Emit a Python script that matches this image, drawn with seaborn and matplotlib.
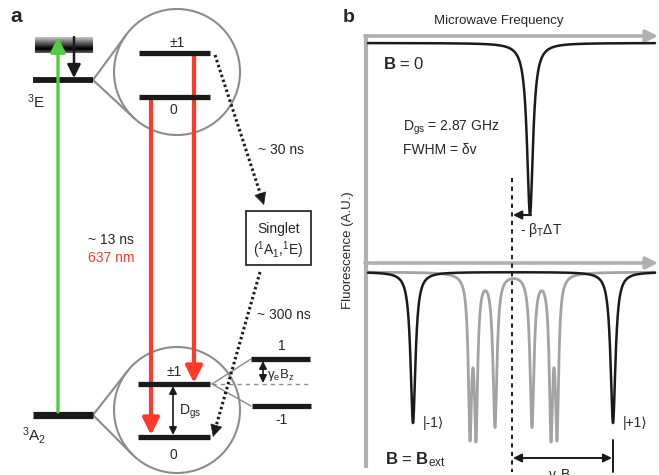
import numpy as np
import pandas as pd
import seaborn as sns
import matplotlib.pyplot as plt
from matplotlib.patches import Circle, Rectangle

sns.set_theme(style="white")
plt.rcParams['font.family'] = ['Liberation Sans', 'DejaVu Sans']
plt.rcParams['mathtext.fontset'] = 'custom'
plt.rcParams['mathtext.rm'] = 'Liberation Sans'
plt.rcParams['mathtext.it'] = 'Liberation Sans:italic'
plt.rcParams['mathtext.bf'] = 'Liberation Sans:bold'

# --- energy levels of panel a (x from, x to, y), in pixels of the 659x475 canvas
level_names = ['3E', '3A2', 'es_p1', 'es_0', 'gs_p1', 'gs_0', 'zm_p1', 'zm_m1']
level_x0 = [33, 33, 139, 139, 138, 138, 251, 252]
level_x1 = [93, 93, 210, 210, 210, 210, 310, 311]
level_y = [80, 415, 53, 97, 384, 437, 359, 406]
level_lw = [4.2, 5.2, 3.8, 3.8, 3.8, 3.8, 3.8, 3.8]

# zoom circles (centre x, centre y, radius) and the level each one magnifies
circle_cx = [177, 177]
circle_cy = [72, 410]
circle_r = [63, 63]
circle_src = [(93, 80), (93, 415)]

# --- ODMR spectra of panel b (pixel units along the frequency axis)
freq = np.linspace(368, 655, 3000)
b0_base, b0_centres, b0_depths, b0_widths = 43, [530], [172], [3.6]
bext_base, bext_centres, bext_depths, bext_widths = 272, [413, 613], [151, 151], [3.0, 3.0]
grey_base = 272
grey_centres = [470, 476, 495, 532, 551, 557]
grey_depths = [152, 152, 152, 152, 152, 152]
grey_widths = [2.0, 2.0, 2.4, 2.4, 2.0, 2.0]
zero_field_x = 512


def spectrum(base, centres, depths, widths):
    y = np.full_like(freq, float(base))
    for c, d, w in zip(centres, depths, widths):
        y += d * w**2 / (w**2 + (freq - c)**2)
    return y


GREEN = '#52cc45'
RED = '#ff3a2a'
GREY = '#8c8c8c'
AXGREY = '#b0b0b0'

fig = plt.figure(figsize=(6.59, 4.75), dpi=100)
ax = fig.add_axes([0, 0, 1, 1])
ax.set_xlim(0, 659)
ax.set_ylim(475, 0)
ax.axis('off')

# phonon sideband (gradient bar)
grad = np.concatenate([np.linspace(0.75, 0.0, 12), np.linspace(0.05, 0.35, 4)])[:, None]
ax.imshow(grad, cmap='gray', vmin=0, vmax=1, extent=(35, 93, 53, 37), aspect='auto', zorder=1)

# circles and cones
for cx, cy, r, (px, py) in zip(circle_cx, circle_cy, circle_r, circle_src):
    ax.add_patch(Circle((cx, cy), r, fill=False, ec=GREY, lw=1.5, zorder=2))
    d = np.hypot(px - cx, py - cy)
    th = np.arctan2(py - cy, px - cx)
    al = np.arccos(r / d)
    for s in (-1, 1):
        tx, ty = cx + r * np.cos(th + s * al), cy + r * np.sin(th + s * al)
        ax.plot([px, tx], [py, ty], color=GREY, lw=1.5, zorder=2)

# zeeman cone
ax.plot([212, 251], [384, 359], color=GREY, lw=1.0, zorder=2)
ax.plot([212, 251], [384, 406], color=GREY, lw=1.0, zorder=2)
ax.plot([212, 311], [384, 384], color=GREY, lw=1.0, ls=(0, (3, 3)), zorder=2)

for x0, x1, y, lw in zip(level_x0, level_x1, level_y, level_lw):
    ax.plot([x0, x1], [y, y], color='k', lw=lw, solid_capstyle='butt', zorder=4)


def arrow(xy0, xy1, color, lw, style='-|>,head_length=0.5,head_width=0.25', ms=20, z=3):
    ax.annotate('', xy=xy1, xytext=xy0,
                arrowprops=dict(arrowstyle=style, color=color, lw=lw, mutation_scale=ms,
                                shrinkA=0, shrinkB=0), zorder=z)


arrow((58, 412), (58, 37), GREEN, 2.4, ms=18, z=5)
arrow((74, 37), (74, 78), 'k', 1.8, ms=16, z=5)
arrow((151, 97), (151, 435), RED, 3.0, ms=20)
arrow((194, 53), (194, 383), RED, 3.0, ms=20)
arrow((173, 386), (173, 435), 'k', 1.2, style='<|-|>,head_length=0.5,head_width=0.25', ms=9)
arrow((263, 361), (263, 383), 'k', 1.2, style='<|-|>,head_length=0.5,head_width=0.25', ms=9)

# intersystem crossing (dotted)
for (x0, y0), (x1, y1) in [((215, 55), (264, 205)), ((260, 272), (213, 437))]:
    v = np.array([x1 - x0, y1 - y0], float)
    v /= np.hypot(*v)
    ex, ey = x1 - 9 * v[0], y1 - 9 * v[1]
    ax.plot([x0, ex], [y0, ey], color='k', lw=2.2, ls=(0, (0.8, 0.9)), zorder=3)
    arrow((ex, ey), (x1, y1), 'k', 0.5, ms=16)

ax.add_patch(Rectangle((246, 211), 65, 54, fill=False, ec='k', lw=1.2, zorder=3))

fs = 10
t = dict(fontsize=fs, va='center', zorder=6)
ax.text(10, 17, 'a', fontsize=15, fontweight='bold', va='center', ha='left')
ax.text(349, 17, 'b', fontsize=14, fontweight='bold', va='center', ha='center')
ax.text(177, 43, '±1', ha='center', **t)
ax.text(173, 110, '0', ha='center', **t)
ax.text(36, 102, r'$^{3}$E', ha='center', fontsize=11, va='center')
ax.text(34, 435, r'$^{3}$A$_{2}$', ha='center', fontsize=11, va='center')
ax.text(258, 150, '~ 30 ns', ha='left', **t)
ax.text(278.5, 229, 'Singlet', ha='center', **t)
ax.text(278.5, 250, r'($^{1}$A$_{1}$,$^{1}$E)', ha='center', **t)
ax.text(88, 240, '~ 13 ns', ha='left', **t)
ax.text(88, 258, '637 nm', ha='left', color=RED, fontsize=fs, va='center')
ax.text(257, 315, '~ 300 ns', ha='left', **t)
ax.text(174, 372, '±1', ha='center', **t)
ax.text(173, 455, '0', ha='center', **t)
ax.text(179, 412, r'D$_{\rm gs}$', ha='left', **t)
ax.text(282, 346, '1', ha='center', **t)
ax.text(282, 420, '-1', ha='center', **t)
ax.text(267, 375, r'γ$_{\rm e}$B$_{\rm z}$', ha='left', fontsize=9.5, va='center')

# --- panel b axes
ax.text(499, 21, 'Microwave Frequency', ha='center', fontsize=9.5, va='center')
ax.text(348, 250, 'Fluorescence (A.U.)', ha='center', va='center', rotation=90, fontsize=9.5)
ax.plot([366, 366], [34, 468], color=AXGREY, lw=3, solid_capstyle='butt', zorder=2)
arrow((365, 36), (658, 36), AXGREY, 2.6, ms=14, z=2)
arrow((365, 263), (658, 263), AXGREY, 2.6, ms=14, z=2)
ax.plot([zero_field_x, zero_field_x], [178, 472], color='k', lw=1.4, ls=(0, (2.2, 2.2)), zorder=3)

df_b0 = pd.DataFrame({'f': freq, 'y': spectrum(b0_base, b0_centres, b0_depths, b0_widths)})
df_grey = pd.DataFrame({'f': freq, 'y': spectrum(grey_base, grey_centres, grey_depths, grey_widths)})
df_bext = pd.DataFrame({'f': freq, 'y': spectrum(bext_base, bext_centres, bext_depths, bext_widths)})
sns.lineplot(data=df_grey, x='f', y='y', color='#a3a3a3', lw=2.0, sort=False, estimator=None, ax=ax, zorder=3)
sns.lineplot(data=df_b0, x='f', y='y', color='k', lw=1.8, sort=False, estimator=None, ax=ax, zorder=4)
sns.lineplot(data=df_bext, x='f', y='y', color='k', lw=1.8, sort=False, estimator=None, ax=ax, zorder=4)
ax.set_xlim(0, 659)
ax.set_ylim(475, 0)
ax.axis('off')

# thermal shift arrow
arrow((531, 215), (513, 215), 'k', 1.5, ms=10, z=5)
ax.text(520, 230, r'- β$_{\rm T}$ΔT', ha='left', **t)
ax.text(383, 64, r'$\mathbf{B}$ = 0', ha='left', fontsize=12, va='center')
ax.text(403, 128, r'D$_{\rm gs}$ = 2.87 GHz', ha='left', **t)
ax.text(403, 150, 'FWHM = δv', ha='left', **t)
ax.text(423, 423, '|-1⟩', ha='left', **t)
ax.text(623, 423, '|+1⟩', ha='left', **t)
ax.text(385, 460, r'$\mathbf{B}$ = $\mathbf{B}_{\rm ext}$', ha='left', fontsize=12, va='center')

# splitting arrow
ax.plot([613, 613], [440, 472], color='k', lw=1.4, zorder=4)
arrow((513, 458), (612, 458), 'k', 1.4, style='<|-|>,head_length=0.5,head_width=0.25', ms=10, z=5)
ax.text(562, 467, r'γ$_{\rm e}$B$_{\rm z}$', ha='center', va='top', fontsize=10)

fig.savefig('out.png', dpi=100)
